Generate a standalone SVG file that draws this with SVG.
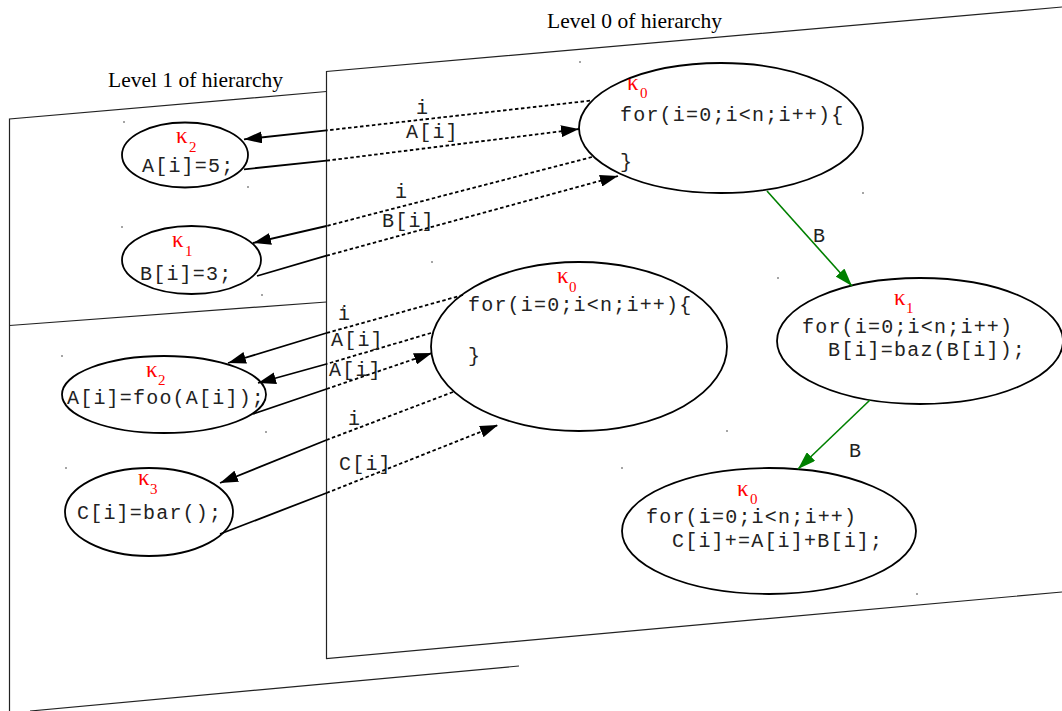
<svg xmlns="http://www.w3.org/2000/svg" width="1062" height="711" viewBox="0 0 1062 711">
<style>
.plane{stroke:#222;stroke-width:1.2;fill:none}
.node ellipse{fill:#fff;stroke:#000;stroke-width:1.8}
.code{font-family:"Liberation Mono","DejaVu Sans Mono",monospace;font-size:20px;letter-spacing:1.2px;fill:#222}
.kap{font-family:"Liberation Serif","DejaVu Serif",serif;font-size:23px;fill:#ff0000}
.sub{font-family:"Liberation Serif","DejaVu Serif",serif;font-size:15px;fill:#ff0000}
.lvl{font-family:"Liberation Serif","DejaVu Serif",serif;font-size:21.5px;fill:#000}
.dt{stroke:#000;stroke-width:1.8;stroke-dasharray:3.5 2.5;fill:none}
.so{stroke:#000;stroke-width:1.8;fill:none}
.gr{stroke:#008000;stroke-width:1.6;fill:none}
.sd{fill:#333}
</style>
<defs>
<marker id="ah" markerUnits="userSpaceOnUse" markerWidth="18" markerHeight="12" refX="18" refY="6" orient="auto"><path d="M0,0 L18,6 L0,12 z" fill="#000"/></marker>
<marker id="ahg" markerUnits="userSpaceOnUse" markerWidth="18" markerHeight="12" refX="18" refY="6" orient="auto"><path d="M0,0 L18,6 L0,12 z" fill="#008000"/></marker>
</defs>

<g id="planes">
<polyline class="plane" points="1062,7 326.5,71.5 326.5,658.5 1062,592"/>
<polyline class="plane" points="326.5,91.5 9.5,119 9.5,711"/>
<line class="plane" x1="9.5" y1="325.5" x2="326.5" y2="302"/>
<line class="plane" x1="30" y1="711" x2="519" y2="666"/>
<text class="lvl" x="547" y="28" textLength="175">Level 0 of hierarchy</text>
<text class="lvl" x="108" y="87" textLength="175">Level 1 of hierarchy</text>
</g>

<g id="stray-dots">
<circle class="sd" cx="580" cy="62" r="0.8"/>
<circle class="sd" cx="124" cy="122" r="0.8"/>
<circle class="sd" cx="248" cy="187" r="0.8"/>
<circle class="sd" cx="122" cy="227" r="0.8"/>
<circle class="sd" cx="262" cy="295" r="0.8"/>
<circle class="sd" cx="343" cy="308" r="0.8"/>
<circle class="sd" cx="62" cy="356" r="0.8"/>
<circle class="sd" cx="266" cy="432" r="0.8"/>
<circle class="sd" cx="66" cy="468" r="0.8"/>
<circle class="sd" cx="432" cy="262" r="0.8"/>
<circle class="sd" cx="727" cy="431" r="0.8"/>
<circle class="sd" cx="778" cy="278" r="0.8"/>
<circle class="sd" cx="622" cy="468" r="0.8"/>
<circle class="sd" cx="917" cy="594" r="0.8"/>
<circle class="sd" cx="863" cy="193" r="0.8"/>
</g>

<g id="n-top-k0" class="node">
<ellipse cx="721" cy="128" rx="142" ry="65"/>
<text class="kap" x="627" y="90">κ</text><text class="sub" x="640" y="98">0</text>
<text class="code" x="620" y="121">for(i=0;i&lt;n;i++){</text>
<text class="code" x="620" y="168">}</text>
</g>

<g id="n-k2-a5" class="node">
<ellipse cx="185" cy="155" rx="63" ry="32.5"/>
<text class="kap" x="176" y="143">κ</text><text class="sub" x="189" y="152">2</text>
<text class="code" x="142" y="172">A[i]=5;</text>
</g>

<g id="n-k1-b3" class="node">
<ellipse cx="191.5" cy="260" rx="69.5" ry="34"/>
<text class="kap" x="172" y="247">κ</text><text class="sub" x="185" y="256">1</text>
<text class="code" x="140" y="280">B[i]=3;</text>
</g>

<g id="n-mid-k0" class="node">
<ellipse cx="579" cy="346.5" rx="148" ry="84.5"/>
<text class="kap" x="557" y="283">κ</text><text class="sub" x="569" y="292">0</text>
<text class="code" x="468" y="311">for(i=0;i&lt;n;i++){</text>
<text class="code" x="468" y="362">}</text>
</g>

<g id="n-k2-foo" class="node">
<ellipse cx="164" cy="394.5" rx="102" ry="38.5"/>
<text class="kap" x="146" y="377">κ</text><text class="sub" x="158" y="385">2</text>
<text class="code" x="67" y="404">A[i]=foo(A[i]);</text>
</g>

<g id="n-k3-bar" class="node">
<ellipse cx="149" cy="512" rx="84" ry="44"/>
<text class="kap" x="138" y="485">κ</text><text class="sub" x="150" y="494">3</text>
<text class="code" x="77" y="519">C[i]=bar();</text>
</g>

<g id="n-right-k1" class="node">
<ellipse cx="920" cy="341" rx="143" ry="63"/>
<text class="kap" x="894" y="305">κ</text><text class="sub" x="906" y="313">1</text>
<text class="code" x="802" y="333">for(i=0;i&lt;n;i++)</text>
<text class="code" x="828" y="356">B[i]=baz(B[i]);</text>
</g>

<g id="n-bottom-k0" class="node">
<ellipse cx="769" cy="531" rx="147" ry="63"/>
<text class="kap" x="737" y="496">κ</text><text class="sub" x="750" y="504">0</text>
<text class="code" x="646" y="523">for(i=0;i&lt;n;i++)</text>
<text class="code" x="672" y="547">C[i]+=A[i]+B[i];</text>
</g>

<g id="connectors">
<line class="dt" x1="590" y1="100.7" x2="326.5" y2="130.4"/>
<line class="so" x1="326.5" y1="130.4" x2="244" y2="139.3" marker-end="url(#ah)"/>
<text class="code" x="416" y="114">i</text>

<line class="so" x1="244" y1="169.3" x2="326.5" y2="160.7"/>
<line class="dt" x1="326.5" y1="160.7" x2="579" y2="129" marker-end="url(#ah)"/>
<text class="code" x="406" y="138">A[i]</text>

<line class="dt" x1="592" y1="157" x2="326.5" y2="226"/>
<line class="so" x1="326.5" y1="226" x2="253" y2="243" marker-end="url(#ah)"/>
<text class="code" x="395" y="198">i</text>

<line class="so" x1="257" y1="276" x2="326.5" y2="255.7"/>
<line class="dt" x1="326.5" y1="255.7" x2="618" y2="176" marker-end="url(#ah)"/>
<text class="code" x="382" y="227">B[i]</text>

<line class="dt" x1="463" y1="295" x2="326.5" y2="333"/>
<line class="so" x1="326.5" y1="333" x2="228" y2="363" marker-end="url(#ah)"/>
<text class="code" x="338" y="320">i</text>

<line class="dt" x1="431" y1="333" x2="326.5" y2="364"/>
<line class="so" x1="326.5" y1="364" x2="258" y2="383" marker-end="url(#ah)"/>
<text class="code" x="331" y="346">A[i]</text>

<line class="so" x1="253" y1="414" x2="326.5" y2="389"/>
<line class="dt" x1="326.5" y1="389" x2="432" y2="353" marker-end="url(#ah)"/>
<text class="code" x="329" y="376">A[i]</text>

<line class="dt" x1="453" y1="392" x2="326.5" y2="440"/>
<line class="so" x1="326.5" y1="440" x2="220" y2="483" marker-end="url(#ah)"/>
<text class="code" x="348" y="425">i</text>

<line class="so" x1="220" y1="534" x2="326.5" y2="493"/>
<line class="dt" x1="326.5" y1="493" x2="498" y2="425" marker-end="url(#ah)"/>
<text class="code" x="339" y="470">C[i]</text>

<line class="gr" x1="767" y1="191" x2="852" y2="286" marker-end="url(#ahg)"/>
<text class="code" x="813" y="242">B</text>
<line class="gr" x1="870" y1="400" x2="798" y2="469" marker-end="url(#ahg)"/>
<text class="code" x="849" y="457">B</text>
</g>
</svg>
